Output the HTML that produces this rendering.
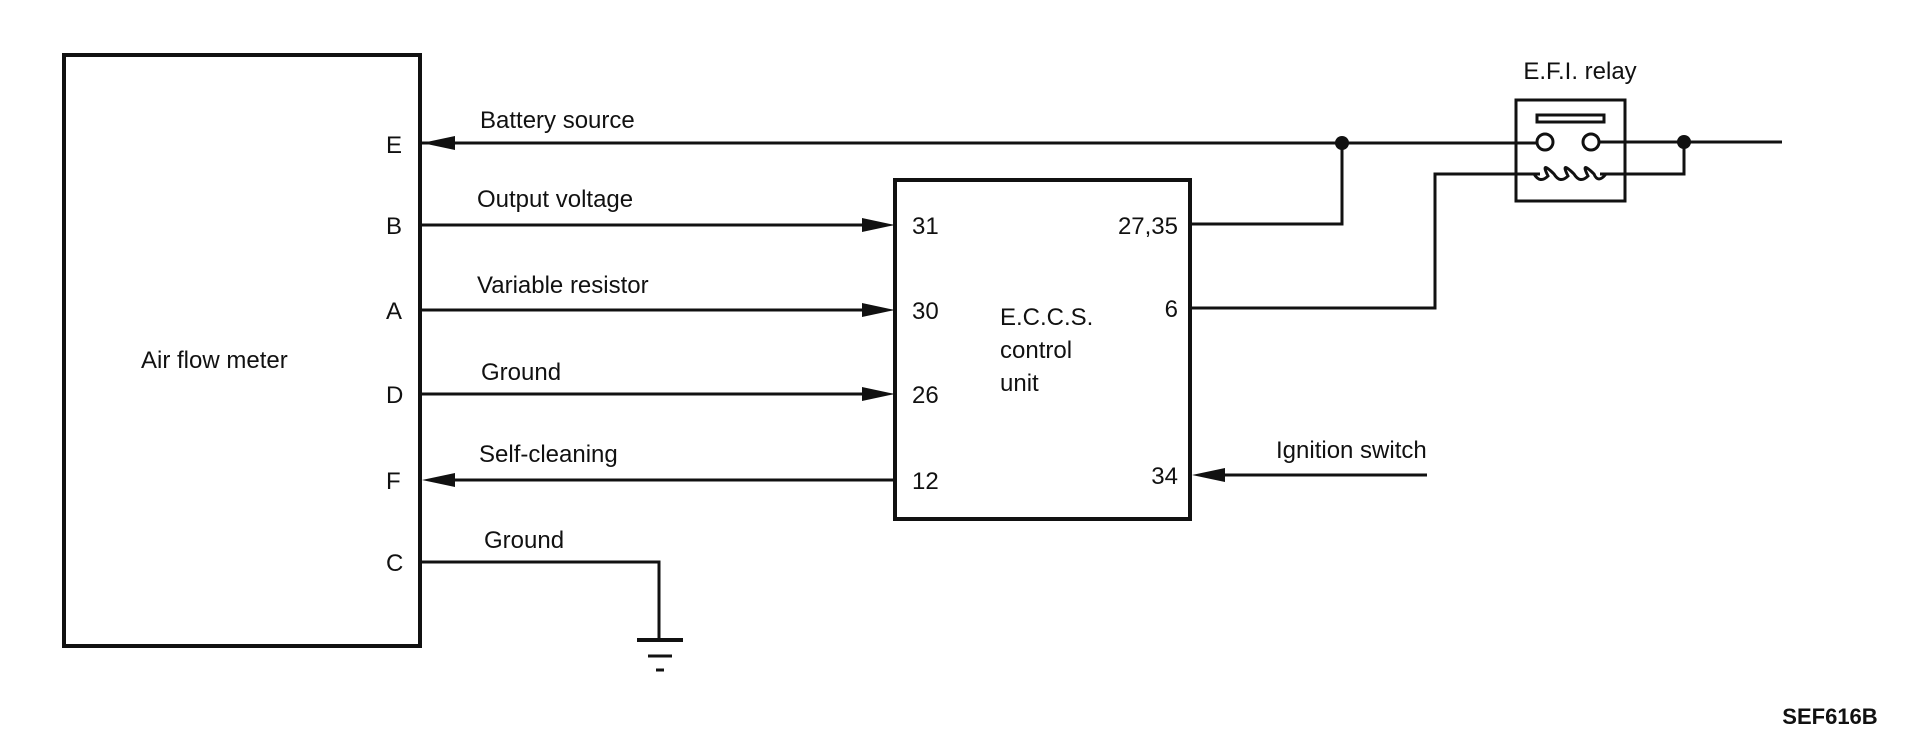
<!DOCTYPE html>
<html><head><meta charset="utf-8"><style>
html,body{margin:0;padding:0;background:#fff;}
svg{display:block;}
text{font-family:"Liberation Sans",sans-serif;font-size:24px;fill:#111;}
</style></head><body>
<svg width="1920" height="753" viewBox="0 0 1920 753" xmlns="http://www.w3.org/2000/svg">
<g stroke="#111" stroke-width="3" fill="none">
<rect x="64" y="55" width="356" height="591" stroke-width="4"/>
<rect x="895" y="180" width="295" height="339" stroke-width="4"/>
<!-- E line -->
<line x1="420" y1="143" x2="1545" y2="143"/>
<line x1="1591" y1="142" x2="1782" y2="142"/>
<!-- B A D F -->
<line x1="420" y1="225" x2="870" y2="225"/>
<line x1="420" y1="310" x2="870" y2="310"/>
<line x1="420" y1="394" x2="870" y2="394"/>
<line x1="450" y1="480" x2="895" y2="480"/>
<!-- C ground -->
<polyline points="420,562 659,562 659,640"/>
<line x1="637" y1="640" x2="683" y2="640" stroke-width="4"/>
<line x1="648" y1="656" x2="672" y2="656"/>
<line x1="656" y1="670" x2="664" y2="670"/>
<!-- 27,35 -->
<polyline points="1190,224 1342,224 1342,143"/>
<!-- 6 -->
<polyline points="1190,308 1435,308 1435,174 1540,174"/>
<!-- relay right -->
<polyline points="1684,142 1684,174 1600,174"/>
<!-- ignition -->
<line x1="1222" y1="475" x2="1427" y2="475"/>
<!-- relay -->
<rect x="1516" y="100" width="109" height="101"/>
<rect x="1537" y="115" width="67" height="7"/>
<circle cx="1545" cy="142" r="8" fill="#fff"/>
<circle cx="1591" cy="142" r="8" fill="#fff"/>
<path d="M1534,174 Q1540,184 1548,176 Q1540,160 1554,174 Q1560,184 1568,176 Q1560,160 1574,174 Q1580,184 1588,176 Q1580,160 1594,174 Q1598,184 1606,174"/>
</g>
<g fill="#111">
<circle cx="1342" cy="143" r="7"/>
<circle cx="1684" cy="142" r="7"/>
<polygon points="422,143 455,136 455,150"/>
<polygon points="422,480 455,473 455,487"/>
<polygon points="895,225 862,218 862,232"/>
<polygon points="895,310 862,303 862,317"/>
<polygon points="895,394 862,387 862,401"/>
<polygon points="1192,475 1225,468 1225,482"/>
</g>
<text x="480" y="128">Battery source</text>
<text x="477" y="207">Output voltage</text>
<text x="477" y="293">Variable resistor</text>
<text x="481" y="380">Ground</text>
<text x="479" y="462">Self-cleaning</text>
<text x="484" y="548">Ground</text>
<text x="141" y="368">Air flow meter</text>
<text x="386" y="153">E</text>
<text x="386" y="234">B</text>
<text x="386" y="319">A</text>
<text x="386" y="403">D</text>
<text x="386" y="489">F</text>
<text x="386" y="571">C</text>
<text x="912" y="234">31</text>
<text x="912" y="319">30</text>
<text x="912" y="403">26</text>
<text x="912" y="489">12</text>
<text x="1178" y="234" text-anchor="end">27,35</text>
<text x="1178" y="317" text-anchor="end">6</text>
<text x="1178" y="484" text-anchor="end">34</text>
<text x="1000" y="325">E.C.C.S.</text>
<text x="1000" y="358">control</text>
<text x="1000" y="391">unit</text>
<text x="1276" y="458">Ignition switch</text>
<text x="1580" y="79" text-anchor="middle">E.F.I. relay</text>
<text x="1830" y="724" text-anchor="middle" style="font-weight:bold;font-size:22px">SEF616B</text>
</svg>
</body></html>
